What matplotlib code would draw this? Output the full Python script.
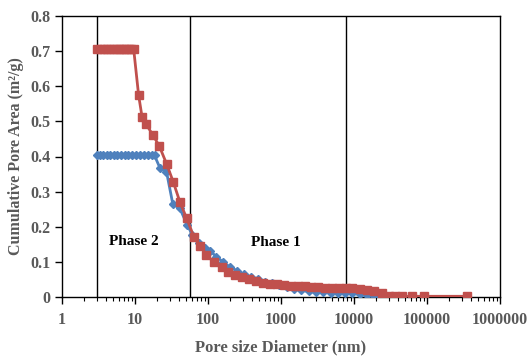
import matplotlib.pyplot as plt
import numpy as np

plt.rcParams['font.family'] = ['Liberation Serif', 'DejaVu Serif']

# red series (squares)
red_x = [3, 3.4, 3.8, 4.2, 4.6, 5.0, 5.5, 6.0, 6.5, 7.0, 7.6, 8.2, 8.9, 9.6,
         11.2, 12.5, 14.1, 17.7, 21.5, 27.2, 33.5, 41.3, 51, 64, 78, 95, 120,
         155, 190, 235, 290, 360, 450, 560, 700, 870, 1100, 1350, 1700, 2100,
         2600, 3200, 4000, 5000, 6200, 7700, 9500, 12000, 15000, 19000, 24000,
         30000, 36000, 45000, 62000, 91000, 350000]
red_y = [0.705] * 14 + [0.575, 0.512, 0.493, 0.460, 0.430, 0.378, 0.327, 0.270,
         0.224, 0.172, 0.145, 0.120, 0.100, 0.085, 0.072, 0.063, 0.056, 0.050,
         0.045, 0.041, 0.038, 0.036, 0.034, 0.032, 0.031, 0.030, 0.029, 0.028,
         0.027, 0.027, 0.026, 0.026, 0.025, 0.023, 0.020, 0.016, 0.011, 0.004,
         0.002, 0.002, 0.002, 0.002, 0.002]

# blue series (diamonds)
blue_x = [3, 3.3, 3.7, 4.1, 4.6, 5.1, 5.7, 6.4, 7.2, 8.1, 9.1, 10.3, 11.6,
          13.2, 15.0, 17.0, 18.5, 22, 27, 33, 41, 52, 61, 75, 90, 108, 130,
          160, 200, 250, 310, 390, 480, 600, 750, 950, 1200, 1500, 1900, 2400,
          3000, 3800, 4800, 6000, 7500, 9500, 12000, 15000, 19000, 24000, 30000]
blue_y = [0.403] * 17 + [0.367, 0.357, 0.264, 0.253, 0.205, 0.177, 0.155,
          0.140, 0.130, 0.115, 0.100, 0.085, 0.075, 0.065, 0.057, 0.050,
          0.044, 0.039, 0.034, 0.028, 0.023, 0.019, 0.016, 0.014, 0.013,
          0.012, 0.012, 0.011, 0.010, 0.008, 0.005, 0.002, 0.0, 0.0]

phase_lines = [3, 57, 7800]

grey = '#595959'

fig = plt.figure(figsize=(5.29, 3.56), dpi=100)
ax = fig.add_axes([62/529, 1 - 297/356, 438/529, 281/356])

ax.plot(blue_x, blue_y, color='#4F81BD', lw=2, marker='D', ms=4,
        mec='#4F81BD', zorder=3)
ax.plot(red_x, red_y, color='#C0504D', lw=2, marker='s', ms=5.5,
        mec='#C0504D', zorder=4)

for xv in phase_lines:
    ax.axvline(xv, color='k', lw=1, zorder=2)

ax.text(9.5, 0.157, 'Phase 2', fontsize=11, fontweight='bold',
        ha='center', va='center')
ax.text(850, 0.155, 'Phase 1', fontsize=11, fontweight='bold',
        ha='center', va='center')

ax.set_xscale('log')
ax.set_xlim(1, 1e6)
ax.set_ylim(0, 0.8)
ax.set_yticks(np.arange(0, 0.81, 0.1))
ax.set_yticklabels(['0', '0.1', '0.2', '0.3', '0.4', '0.5', '0.6', '0.7', '0.8'])
ax.set_xticks([1, 10, 100, 1000, 10000, 100000, 1000000])
ax.set_xticklabels(['1', '10', '100', '1000', '10000', '100000', '1000000'])

for lab in ax.get_xticklabels() + ax.get_yticklabels():
    lab.set_fontweight('bold')
    lab.set_color(grey)
    lab.set_fontsize(11.5)

ax.tick_params(axis='both', which='major', direction='out', length=5,
               width=1, color='k')
ax.tick_params(axis='x', which='major', pad=6)
ax.tick_params(axis='x', which='minor', direction='out', length=3,
               width=0.8, color='k')

for side in ['top', 'right', 'left', 'bottom']:
    ax.spines[side].set_color('k')
    ax.spines[side].set_linewidth(1)

ax.set_xlabel('Pore size Diameter (nm)', fontsize=12, fontweight='bold',
              color=grey, labelpad=8)
ax.set_ylabel('Cumulative Pore Area (m²/g)', fontsize=11.5,
              fontweight='bold', color=grey, labelpad=4)

plt.savefig('out.png', dpi=100)
